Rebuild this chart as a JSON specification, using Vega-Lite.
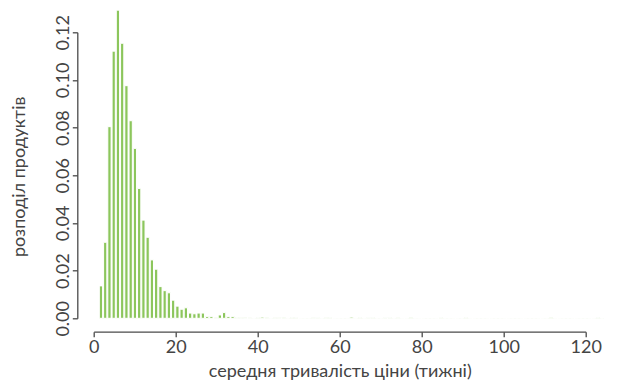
{
  "$schema": "https://vega.github.io/schema/vega-lite/v6.json",
  "width": 492,
  "height": 286,
  "autosize": {"type": "none"},
  "padding": {"left": 93.7, "top": 32.3, "right": 33.3, "bottom": 64.7},
  "background": "white",
  "config": {
    "view": {"stroke": null},
    "font": "Lato",
    "axis": {
      "grid": false,
      "domainColor": "#4a4a4a",
      "domainWidth": 1.3,
      "tickColor": "#4a4a4a",
      "tickWidth": 1.3,
      "tickSize": 5,
      "labelFlush": false,
      "labelFont": "Lato",
      "labelFontSize": 18,
      "labelFontWeight": "normal",
      "labelColor": "#444444",
      "titleFont": "Lato",
      "titleFontSize": 18,
      "titleFontWeight": "normal",
      "titleColor": "#444444"
    }
  },
  "data": {
    "values": [
      {"lo": 1.13, "hi": 2.17, "share": 0.0136},
      {"lo": 2.17, "hi": 3.20, "share": 0.0319},
      {"lo": 3.20, "hi": 4.24, "share": 0.0804},
      {"lo": 4.24, "hi": 5.27, "share": 0.1121},
      {"lo": 5.27, "hi": 6.31, "share": 0.1293},
      {"lo": 6.31, "hi": 7.34, "share": 0.1154},
      {"lo": 7.34, "hi": 8.38, "share": 0.0976},
      {"lo": 8.38, "hi": 9.42, "share": 0.0829},
      {"lo": 9.42, "hi": 10.45, "share": 0.0713},
      {"lo": 10.45, "hi": 11.49, "share": 0.0545},
      {"lo": 11.49, "hi": 12.52, "share": 0.0412},
      {"lo": 12.52, "hi": 13.56, "share": 0.0340},
      {"lo": 13.56, "hi": 14.59, "share": 0.0245},
      {"lo": 14.59, "hi": 15.63, "share": 0.0206},
      {"lo": 15.63, "hi": 16.67, "share": 0.0133},
      {"lo": 16.67, "hi": 17.70, "share": 0.0116},
      {"lo": 17.70, "hi": 18.74, "share": 0.0107},
      {"lo": 18.74, "hi": 19.77, "share": 0.0076},
      {"lo": 19.77, "hi": 20.81, "share": 0.0051},
      {"lo": 20.81, "hi": 21.84, "share": 0.0038},
      {"lo": 21.84, "hi": 22.88, "share": 0.0044},
      {"lo": 22.88, "hi": 23.92, "share": 0.0022},
      {"lo": 23.92, "hi": 24.95, "share": 0.0019},
      {"lo": 24.95, "hi": 25.99, "share": 0.0022},
      {"lo": 25.99, "hi": 27.02, "share": 0.0022},
      {"lo": 27.02, "hi": 28.06, "share": 0.0008},
      {"lo": 28.06, "hi": 29.09, "share": 0.0008},
      {"lo": 29.09, "hi": 30.13, "share": 0.0004},
      {"lo": 30.13, "hi": 31.17, "share": 0.0014},
      {"lo": 31.17, "hi": 32.20, "share": 0.0024},
      {"lo": 32.20, "hi": 33.24, "share": 0.0008},
      {"lo": 33.24, "hi": 34.27, "share": 0.0008},
      {"lo": 34.27, "hi": 35.31, "share": 0.0003},
      {"lo": 35.31, "hi": 36.34, "share": 0.0002},
      {"lo": 36.34, "hi": 37.38, "share": 0.0002},
      {"lo": 37.38, "hi": 38.42, "share": 0.0002},
      {"lo": 38.42, "hi": 39.45, "share": 0.0001},
      {"lo": 39.45, "hi": 40.49, "share": 0.0003},
      {"lo": 40.49, "hi": 41.52, "share": 0.0005},
      {"lo": 41.52, "hi": 42.56, "share": 0.0004},
      {"lo": 42.56, "hi": 43.59, "share": 0.0001},
      {"lo": 43.59, "hi": 44.63, "share": 0.0002},
      {"lo": 44.63, "hi": 45.67, "share": 0.0002},
      {"lo": 45.67, "hi": 46.70, "share": 0.0004},
      {"lo": 46.70, "hi": 47.74, "share": 0.0001},
      {"lo": 47.74, "hi": 48.77, "share": 0.0003},
      {"lo": 48.77, "hi": 49.81, "share": 0.0003},
      {"lo": 49.81, "hi": 50.84, "share": 0.0001},
      {"lo": 50.84, "hi": 51.88, "share": 0.0001},
      {"lo": 51.88, "hi": 52.92, "share": 0.0001},
      {"lo": 52.92, "hi": 53.95, "share": 0.0002},
      {"lo": 53.95, "hi": 54.99, "share": 0.0003},
      {"lo": 54.99, "hi": 56.02, "share": 0.0001},
      {"lo": 56.02, "hi": 57.06, "share": 0.0002},
      {"lo": 57.06, "hi": 58.09, "share": 0.0003},
      {"lo": 58.09, "hi": 59.13, "share": 0.0001},
      {"lo": 59.13, "hi": 60.17, "share": 0.0001},
      {"lo": 60.17, "hi": 61.20, "share": 0.0001},
      {"lo": 61.20, "hi": 62.24, "share": 0.0001},
      {"lo": 62.24, "hi": 63.27, "share": 0.0005},
      {"lo": 63.27, "hi": 64.31, "share": 0.0001},
      {"lo": 64.31, "hi": 65.34, "share": 0.0003},
      {"lo": 65.34, "hi": 66.38, "share": 0.0001},
      {"lo": 66.38, "hi": 67.42, "share": 0.0003},
      {"lo": 67.42, "hi": 68.45, "share": 0.0003},
      {"lo": 68.45, "hi": 69.49, "share": 0.0001},
      {"lo": 69.49, "hi": 70.52, "share": 0.0001},
      {"lo": 70.52, "hi": 71.56, "share": 0.0003},
      {"lo": 71.56, "hi": 72.59, "share": 0.0003},
      {"lo": 72.59, "hi": 73.63, "share": 0.0001},
      {"lo": 73.63, "hi": 74.67, "share": 0.0002},
      {"lo": 74.67, "hi": 75.70, "share": 0.0001},
      {"lo": 75.70, "hi": 76.74, "share": 0.0001},
      {"lo": 76.74, "hi": 77.77, "share": 0.0004},
      {"lo": 77.77, "hi": 78.81, "share": 0.0001},
      {"lo": 78.81, "hi": 79.84, "share": 0.0001},
      {"lo": 79.84, "hi": 80.88, "share": 0.0001},
      {"lo": 80.88, "hi": 81.92, "share": 0.0001},
      {"lo": 81.92, "hi": 82.95, "share": 0.0001},
      {"lo": 82.95, "hi": 83.99, "share": 0.0001},
      {"lo": 83.99, "hi": 85.02, "share": 0.0003},
      {"lo": 85.02, "hi": 86.06, "share": 0.0001},
      {"lo": 86.06, "hi": 87.09, "share": 0.0001},
      {"lo": 87.09, "hi": 88.13, "share": 0.0001},
      {"lo": 88.13, "hi": 89.17, "share": 0.0001},
      {"lo": 89.17, "hi": 90.20, "share": 0.0001},
      {"lo": 90.20, "hi": 91.24, "share": 0.0003},
      {"lo": 91.24, "hi": 92.27, "share": 0.0001},
      {"lo": 92.27, "hi": 93.31, "share": 0.0001},
      {"lo": 93.31, "hi": 94.34, "share": 0.0001},
      {"lo": 94.34, "hi": 95.38, "share": 0.0001},
      {"lo": 95.38, "hi": 96.42, "share": 0.0001},
      {"lo": 96.42, "hi": 97.45, "share": 0.0001},
      {"lo": 97.45, "hi": 98.49, "share": 0.0001},
      {"lo": 98.49, "hi": 99.52, "share": 0.0001},
      {"lo": 99.52, "hi": 100.56, "share": 0.0001},
      {"lo": 100.56, "hi": 101.59, "share": 0.0001},
      {"lo": 101.59, "hi": 102.63, "share": 0.0001},
      {"lo": 102.63, "hi": 103.67, "share": 0.0001},
      {"lo": 103.67, "hi": 104.70, "share": 0.0001},
      {"lo": 104.70, "hi": 105.74, "share": 0.0001},
      {"lo": 105.74, "hi": 106.77, "share": 0.0001},
      {"lo": 106.77, "hi": 107.81, "share": 0.0001},
      {"lo": 107.81, "hi": 108.84, "share": 0.0001},
      {"lo": 108.84, "hi": 109.88, "share": 0.0001},
      {"lo": 109.88, "hi": 110.92, "share": 0.0001},
      {"lo": 110.92, "hi": 111.95, "share": 0.0004},
      {"lo": 111.95, "hi": 112.99, "share": 0.0001},
      {"lo": 112.99, "hi": 114.02, "share": 0.0001},
      {"lo": 114.02, "hi": 115.06, "share": 0.0001},
      {"lo": 115.06, "hi": 116.09, "share": 0.0001},
      {"lo": 116.09, "hi": 117.13, "share": 0.0001},
      {"lo": 117.13, "hi": 118.17, "share": 0.0001},
      {"lo": 118.17, "hi": 119.20, "share": 0.0001},
      {"lo": 119.20, "hi": 120.24, "share": 0.0001},
      {"lo": 120.24, "hi": 121.27, "share": 0.0001},
      {"lo": 121.27, "hi": 122.31, "share": 0.0001},
      {"lo": 122.31, "hi": 123.34, "share": 0.0003},
      {"lo": 123.34, "hi": 124.38, "share": 0.0001}
    ]
  },
  "mark": {"type": "bar", "color": "#8cc65c", "stroke": "white", "strokeWidth": 1, "clip": false},
  "encoding": {
    "x": {
      "field": "lo",
      "type": "quantitative",
      "bin": "binned",
      "scale": {"domain": [0, 120], "nice": false},
      "axis": {
        "values": [0, 20, 40, 60, 80, 100, 120],
        "format": "d",
        "offset": 13.4,
        "labelPadding": 2,
        "title": "середня тривалість ціни (тижні)",
        "titlePadding": 6
      }
    },
    "x2": {"field": "hi"},
    "y": {
      "field": "share",
      "type": "quantitative",
      "scale": {"domain": [0, 0.12], "nice": false},
      "axis": {
        "values": [0, 0.02, 0.04, 0.06, 0.08, 0.1, 0.12],
        "format": ".2f",
        "offset": 16.4,
        "labelAngle": 270,
        "labelPadding": 0,
        "title": "розподіл продуктів",
        "titlePadding": 26,
        "titleY": 144
      }
    }
  }
}
